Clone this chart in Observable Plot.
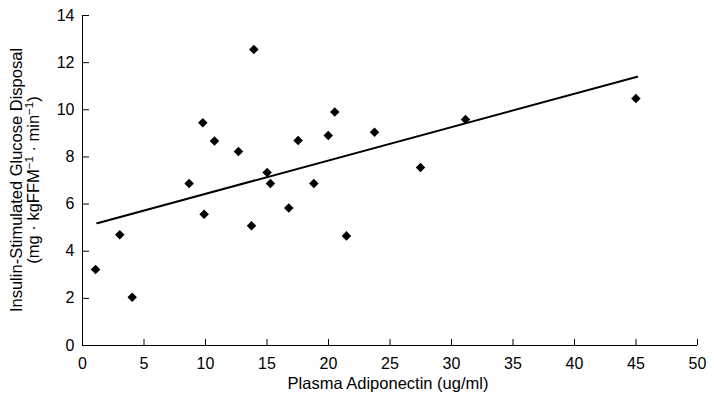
<!DOCTYPE html>
<html>
<head>
<meta charset="utf-8">
<script src="https://cdn.jsdelivr.net/npm/d3@7"></script>
<script src="https://cdn.jsdelivr.net/npm/@observablehq/plot@0.6"></script>
<style>
  html, body { margin: 0; padding: 0; background: white; }
  svg { display: block; }
</style>
</head>
<body>
<div id="chart"></div>
<script>
// Plasma adiponectin (ug/ml)
const adiponectin = [1.06, 3.03, 4.04, 8.67, 9.78, 9.89, 10.73, 12.68, 13.74, 13.93, 15.01,
  15.28, 16.77, 17.53, 18.81, 19.98, 20.51, 21.46, 23.74, 27.48, 31.14, 44.99];
// Insulin-stimulated glucose disposal (mg · kgFFM-1 · min-1)
const glucoseDisposal = [3.22, 4.70, 2.05, 6.87, 9.45, 5.57, 8.68, 8.23, 5.08, 12.56, 7.34,
  6.87, 5.83, 8.70, 6.87, 8.91, 9.91, 4.65, 9.05, 7.55, 9.59, 10.48];
// Regression line end points
const fitX = [1.2, 45.1];
const fitY = [5.19, 11.40];
// Tick values
const xTicks = [0, 5, 10, 15, 20, 25, 30, 35, 40, 45, 50];
const yTicks = [0, 2, 4, 6, 8, 10, 12, 14];

const xLabel = "Plasma Adiponectin (ug/ml)";
const yLabel1 = "Insulin-Stimulated Glucose Disposal";

const points = adiponectin.map((x, i) => ({x, y: glucoseDisposal[i]}));
const fit = fitX.map((x, i) => ({x, y: fitY[i]}));

const chart = Plot.plot({
  width: 714,
  height: 402,
  marginLeft: 82,
  marginRight: 17,
  marginTop: 15,
  marginBottom: 57,
  style: {fontFamily: "'Liberation Sans', Arial, sans-serif", fontSize: "16px", color: "black", background: "white"},
  x: {domain: [0, 50]},
  y: {domain: [0, 14]},
  marks: [
    Plot.axisX({ticks: xTicks, tickSize: -6, tickPadding: 18, label: null, fontSize: 16}),
    Plot.axisY({ticks: yTicks, tickSize: -7, tickPadding: 15, label: null, fontSize: 16}),
    Plot.ruleY([0], {stroke: "black"}),
    Plot.ruleX([0], {stroke: "black"}),
    Plot.line(fit, {x: "x", y: "y", stroke: "black", strokeWidth: 2}),
    Plot.dot(points, {x: "x", y: "y", symbol: "diamond2", r: 4.3, fill: "black", stroke: "none"})
  ]
});

document.getElementById("chart").appendChild(chart);

const svg = d3.select(chart);
svg.append("text")
  .attr("x", 388)
  .attr("y", 389)
  .attr("text-anchor", "middle")
  .attr("font-size", 16.5)
  .attr("font-family", "'Liberation Sans', Arial, sans-serif")
  .attr("fill", "black")
  .text(xLabel);

svg.append("text")
  .attr("transform", "translate(22,180) rotate(-90)")
  .attr("text-anchor", "middle")
  .attr("font-size", 16.5)
  .attr("font-family", "'Liberation Sans', Arial, sans-serif")
  .attr("fill", "black")
  .text(yLabel1);

const t2 = svg.append("text")
  .attr("transform", "translate(39,180) rotate(-90)")
  .attr("text-anchor", "middle")
  .attr("font-size", 16.5)
  .attr("font-family", "'Liberation Sans', Arial, sans-serif")
  .attr("fill", "black");
const parts = [["(mg · kgFFM", false], ["−1", true], [" · min", false], ["−1", true], [")", false]];
parts.forEach(([s, sup]) => {
  const ts = t2.append("tspan").text(s);
  if (sup) ts.attr("font-size", 11.5).attr("baseline-shift", "super");
});
</script>
</body>
</html>
